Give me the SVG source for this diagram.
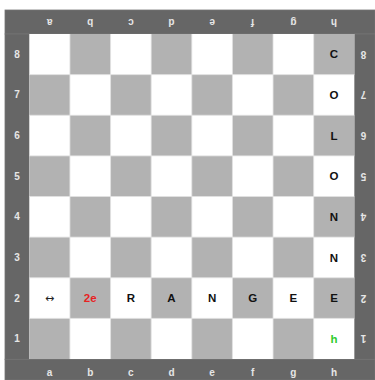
<svg xmlns="http://www.w3.org/2000/svg" width="375" height="380" viewBox="0 0 375 380">
<style>
.frame{fill:#666666}
.bcell{fill:#666666;stroke:#747474;stroke-width:0.8}
.lbl{font-family:"Liberation Sans",Arial,sans-serif;font-size:10px;font-weight:bold;fill:#e6e6e6;text-anchor:middle}
.w{fill:#ffffff}
.d{fill:#b2b2b2}
.grid{fill:none;stroke:#e2e2e2;stroke-width:0.8}
.pc{font-family:"Liberation Sans",Arial,sans-serif;font-size:11.5px;font-weight:bold;fill:#111111;text-anchor:middle}
</style>
<rect class="frame" x="5" y="10" width="370" height="370"/>
<g id="border">
<rect class="bcell" x="5" y="10" width="370" height="24"/>
<rect class="bcell" x="5" y="359.3" width="370" height="20.7"/>
<rect class="bcell" x="5" y="34" width="24.3" height="325.3"/>
<rect class="bcell" x="354.3" y="34" width="20.7" height="325.3"/>
<g id="top-labels">
<text class="lbl" transform="translate(49.6,22) rotate(180)" y="3.5">a</text>
<text class="lbl" transform="translate(90.2,22) rotate(180)" y="3.5">b</text>
<text class="lbl" transform="translate(130.9,22) rotate(180)" y="3.5">c</text>
<text class="lbl" transform="translate(171.5,22) rotate(180)" y="3.5">d</text>
<text class="lbl" transform="translate(212.1,22) rotate(180)" y="3.5">e</text>
<text class="lbl" transform="translate(252.7,22) rotate(180)" y="3.5">f</text>
<text class="lbl" transform="translate(293.4,22) rotate(180)" y="3.5">g</text>
<text class="lbl" transform="translate(334,22) rotate(180)" y="3.5">h</text>
</g>
<g id="bottom-labels">
<text class="lbl" x="49.6" y="375.5">a</text>
<text class="lbl" x="90.2" y="375.5">b</text>
<text class="lbl" x="130.9" y="375.5">c</text>
<text class="lbl" x="171.5" y="375.5">d</text>
<text class="lbl" x="212.1" y="375.5">e</text>
<text class="lbl" x="252.7" y="375.5">f</text>
<text class="lbl" x="293.4" y="375.5">g</text>
<text class="lbl" x="334" y="375.5">h</text>
</g>
<g id="left-labels">
<text class="lbl" x="17" y="57.8">8</text>
<text class="lbl" x="17" y="98.4">7</text>
<text class="lbl" x="17" y="139">6</text>
<text class="lbl" x="17" y="179.7">5</text>
<text class="lbl" x="17" y="220.3">4</text>
<text class="lbl" x="17" y="260.9">3</text>
<text class="lbl" x="17" y="301.5">2</text>
<text class="lbl" x="17" y="342.2">1</text>
</g>
<g id="right-labels">
<text class="lbl" transform="translate(363.5,54.3) rotate(180)" y="3.5">8</text>
<text class="lbl" transform="translate(363.5,94.9) rotate(180)" y="3.5">7</text>
<text class="lbl" transform="translate(363.5,135.5) rotate(180)" y="3.5">6</text>
<text class="lbl" transform="translate(363.5,176.2) rotate(180)" y="3.5">5</text>
<text class="lbl" transform="translate(363.5,216.8) rotate(180)" y="3.5">4</text>
<text class="lbl" transform="translate(363.5,257.4) rotate(180)" y="3.5">3</text>
<text class="lbl" transform="translate(363.5,298) rotate(180)" y="3.5">2</text>
<text class="lbl" transform="translate(363.5,338.7) rotate(180)" y="3.5">1</text>
</g>
</g>
<g id="squares">
<rect class="w" x="29.3" y="34" width="325" height="325"/>
<g id="dark-squares">
<rect class="d" x="69.925" y="34" width="40.625" height="40.625"/>
<rect class="d" x="151.175" y="34" width="40.625" height="40.625"/>
<rect class="d" x="232.425" y="34" width="40.625" height="40.625"/>
<rect class="d" x="313.675" y="34" width="40.625" height="40.625"/>
<rect class="d" x="29.3" y="74.625" width="40.625" height="40.625"/>
<rect class="d" x="110.55" y="74.625" width="40.625" height="40.625"/>
<rect class="d" x="191.8" y="74.625" width="40.625" height="40.625"/>
<rect class="d" x="273.05" y="74.625" width="40.625" height="40.625"/>
<rect class="d" x="69.925" y="115.25" width="40.625" height="40.625"/>
<rect class="d" x="151.175" y="115.25" width="40.625" height="40.625"/>
<rect class="d" x="232.425" y="115.25" width="40.625" height="40.625"/>
<rect class="d" x="313.675" y="115.25" width="40.625" height="40.625"/>
<rect class="d" x="29.3" y="155.875" width="40.625" height="40.625"/>
<rect class="d" x="110.55" y="155.875" width="40.625" height="40.625"/>
<rect class="d" x="191.8" y="155.875" width="40.625" height="40.625"/>
<rect class="d" x="273.05" y="155.875" width="40.625" height="40.625"/>
<rect class="d" x="69.925" y="196.5" width="40.625" height="40.625"/>
<rect class="d" x="151.175" y="196.5" width="40.625" height="40.625"/>
<rect class="d" x="232.425" y="196.5" width="40.625" height="40.625"/>
<rect class="d" x="313.675" y="196.5" width="40.625" height="40.625"/>
<rect class="d" x="29.3" y="237.125" width="40.625" height="40.625"/>
<rect class="d" x="110.55" y="237.125" width="40.625" height="40.625"/>
<rect class="d" x="191.8" y="237.125" width="40.625" height="40.625"/>
<rect class="d" x="273.05" y="237.125" width="40.625" height="40.625"/>
<rect class="d" x="69.925" y="277.75" width="40.625" height="40.625"/>
<rect class="d" x="151.175" y="277.75" width="40.625" height="40.625"/>
<rect class="d" x="232.425" y="277.75" width="40.625" height="40.625"/>
<rect class="d" x="313.675" y="277.75" width="40.625" height="40.625"/>
<rect class="d" x="29.3" y="318.375" width="40.625" height="40.625"/>
<rect class="d" x="110.55" y="318.375" width="40.625" height="40.625"/>
<rect class="d" x="191.8" y="318.375" width="40.625" height="40.625"/>
<rect class="d" x="273.05" y="318.375" width="40.625" height="40.625"/>
</g>
<path class="grid" d="M69.925 34V359M110.55 34V359M151.175 34V359M191.8 34V359M232.425 34V359M273.05 34V359M313.675 34V359M29.3 74.625H354.3M29.3 115.25H354.3M29.3 155.875H354.3M29.3 196.5H354.3M29.3 237.125H354.3M29.3 277.75H354.3M29.3 318.375H354.3"/>
</g>
<g id="pieces">
<text class="pc" x="334" y="58.4">C</text>
<text class="pc" x="334" y="99">O</text>
<text class="pc" x="334" y="139.6">L</text>
<text class="pc" x="334" y="180.3">O</text>
<text class="pc" x="334" y="220.9">N</text>
<text class="pc" x="334" y="261.5">N</text>
<text class="pc" x="334" y="302.1">E</text>
<text class="pc" x="334" y="342.7" style="fill:#2ecc2e">h</text>
<text class="pc" x="49.6" y="302.1" style="font-family:'DejaVu Sans',sans-serif;font-weight:normal;font-size:11px;fill:#222">↔</text>
<text class="pc" x="90.2" y="302.1" style="fill:#e82222">2e</text>
<text class="pc" x="130.9" y="302.1">R</text>
<text class="pc" x="171.5" y="302.1">A</text>
<text class="pc" x="212.1" y="302.1">N</text>
<text class="pc" x="252.7" y="302.1">G</text>
<text class="pc" x="293.4" y="302.1">E</text>
</g>
</svg>
